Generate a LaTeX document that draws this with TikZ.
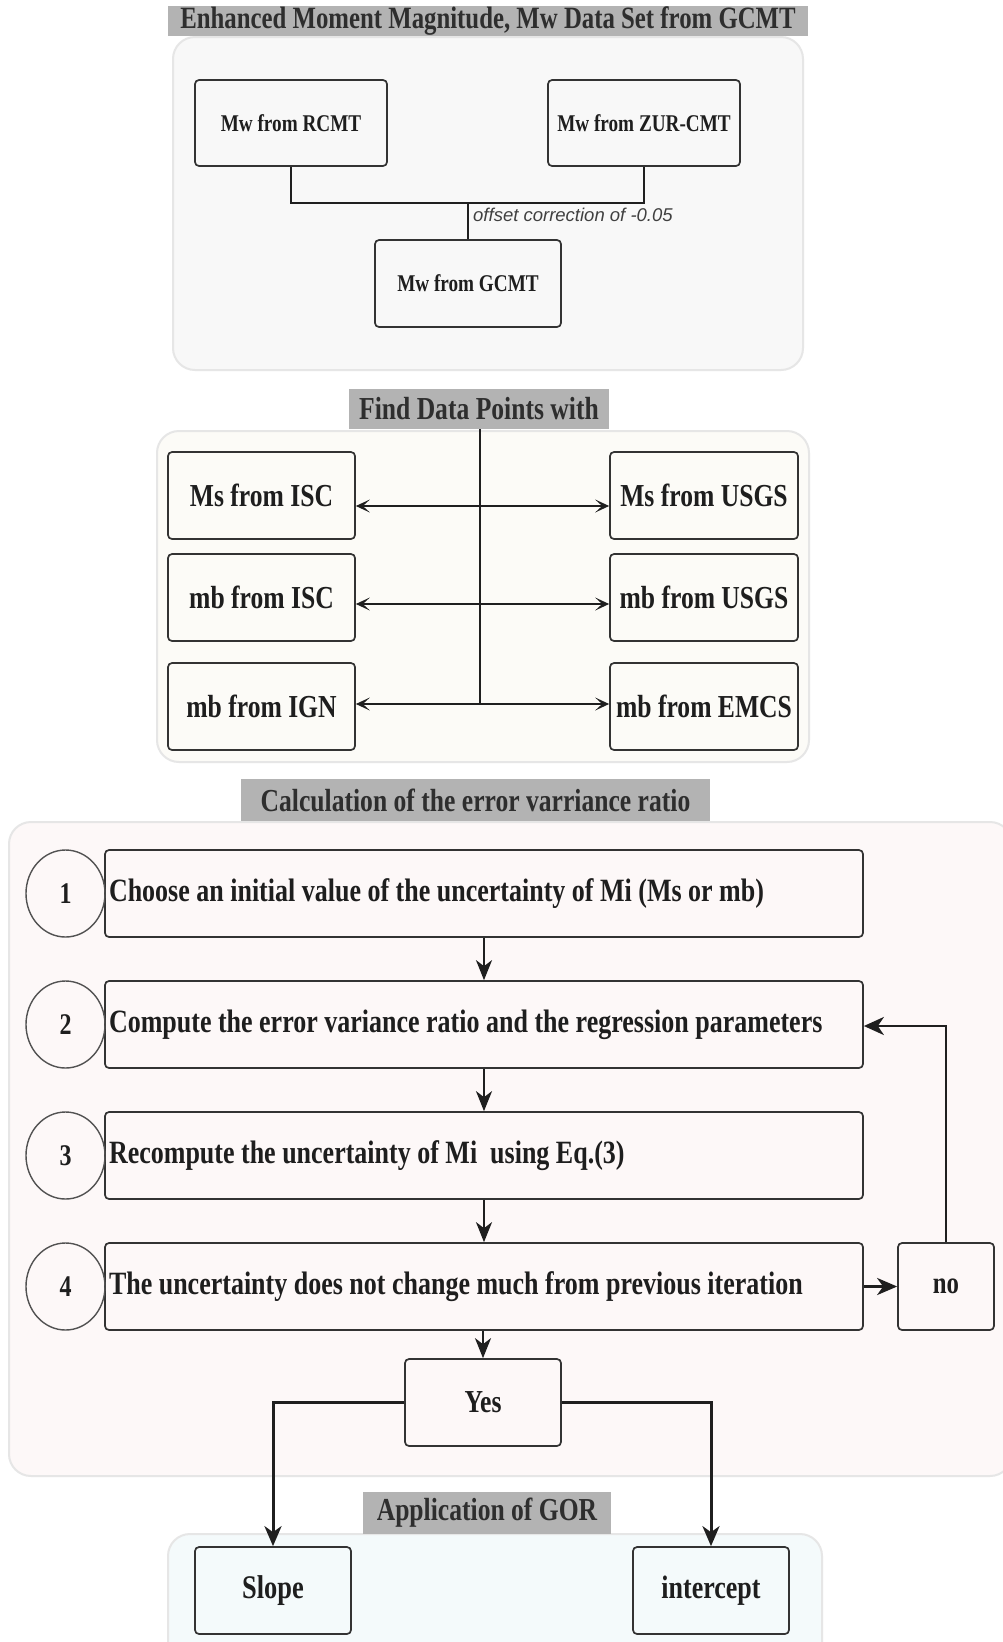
\documentclass[tikz,border=0pt]{standalone}
\usepackage{fontspec}
\usetikzlibrary{arrows.meta,shapes.geometric}
\newfontfamily\cond[FakeStretch=0.8]{Liberation Serif}
\newfontfamily\lsans{Liberation Sans}
\definecolor{bandgray}{HTML}{B3B3B3}
\definecolor{boxline}{HTML}{333333}
\definecolor{contline}{HTML}{E6E6E6}
\definecolor{cfill1}{HTML}{F8F8F8}
\definecolor{cfill2}{HTML}{FCFBF7}
\definecolor{cfill3}{HTML}{FDF8F8}
\definecolor{cfill4}{HTML}{F4FAFB}
\definecolor{txtc}{HTML}{1E1E1E}
\definecolor{ttlc}{HTML}{2E2E2E}
\newcommand{\fs}[1]{\fontsize{#1}{#1}\selectfont}
\newcommand{\steptext}[1]{\makebox[750pt][l]{#1}}
\tikzset{
  band/.style={fill=bandgray, inner sep=0pt, text=ttlc, font=\cond\bfseries\fs{32}},
  cont/.style={draw=contline, line width=2pt, rounded corners=22pt},
  box/.style={draw=boxline, line width=1.7pt, rounded corners=4pt, inner sep=0pt,
    text=txtc, font=\cond\bfseries\fs{32}, minimum height=87pt},
  stepbox/.style={draw=boxline, line width=1.7pt, rounded corners=4pt, inner ysep=0pt,
    inner xsep=4pt, text=txtc, font=\cond\bfseries\fs{32.5}, minimum height=87pt},
  num/.style={draw=boxline!85, line width=1.4pt, ellipse, inner sep=0pt,
    minimum width=79pt, minimum height=87pt, text=txtc, font=\cond\bfseries\fs{30}},
  conn/.style={line width=1.8pt, draw=black!88},
  arr/.style={conn, line width=2pt, -{Stealth[length=20pt,width=16pt,inset=6pt]}},
  sarr/.style={conn, -{Stealth[length=14pt,width=13pt,inset=7pt]}},
  thk/.style={line width=3pt, draw=black!88},
}
\begin{document}
\begin{tikzpicture}[x=1pt,y=-1pt]
\useasboundingbox (0,0) rectangle (1003,1642);
\clip (0,0) rectangle (1003,1642);
\fill[white] (0,0) rectangle (1003,1642);

% containers
\draw[cont, fill=cfill1] (173,37) rectangle (803,370);
\draw[cont, fill=cfill2] (157,431) rectangle (809,762);
\draw[cont, fill=cfill3] (9,822) rectangle (1012,1476);
\draw[cont, fill=cfill4] (168,1534) rectangle (822,1670);

% title bands
\node[band, minimum width=640pt, minimum height=30pt, font=\cond\bfseries\fs{31}] (t1) at (488,21) {Enhanced Moment Magnitude, Mw Data Set from GCMT};
\node[band, minimum width=260pt, minimum height=40pt] (t2) at (479,409) {Find Data Points with};
\node[band, minimum width=469pt, minimum height=42pt] (t3) at (475.5,800) {Calculation of the error varriance ratio};
\node[band, minimum width=248pt, minimum height=42pt] (t4) at (487,1513) {Application of GOR};

% section 1
\node[box, minimum width=192pt, minimum height=86pt, font=\cond\bfseries\fs{24}] (rcmt) at (291,123) {Mw from RCMT};
\node[box, minimum width=192pt, minimum height=86pt, font=\cond\bfseries\fs{24}] (zur) at (644,123) {Mw from ZUR-CMT};
\node[box, minimum width=186pt, font=\cond\bfseries\fs{24}] (gcmt) at (468,283.5) {Mw from GCMT};
\coordinate (j1) at (468,203);
\draw[conn, line width=1.6pt] (rcmt.south) |- (j1) -| (zur.south);
\draw[conn, line width=1.6pt] (j1) -- (gcmt.north);
\node[anchor=north west, inner sep=0pt, text=black!75, font=\lsans\itshape\fs{18.5}] (off) at (473,208) {offset correction of -0.05};

% section 2
\node[box, minimum width=187pt] (msisc) at (261.5,495.5) {Ms from ISC};
\node[box, minimum width=187pt] (mbisc) at (261.5,597.5) {mb from ISC};
\node[box, minimum width=187pt] (mbign) at (261.5,706.5) {mb from IGN};
\node[box, minimum width=188pt] (msusgs) at (704,495.5) {Ms from USGS};
\node[box, minimum width=188pt] (mbusgs) at (704,597.5) {mb from USGS};
\node[box, minimum width=188pt] (mbemcs) at (704,706.5) {mb from EMCS};
\coordinate (h1) at (480,506);
\coordinate (h2) at (480,604);
\coordinate (h3) at (480,704);
\draw[conn] (t2.south -| h1) -- (h3);
\draw[sarr] (h1) -- (h1 -| msisc.east);
\draw[sarr] (h1) -- (h1 -| msusgs.west);
\draw[sarr] (h2) -- (h2 -| mbisc.east);
\draw[sarr] (h2) -- (h2 -| mbusgs.west);
\draw[sarr] (h3) -- (h3 -| mbign.east);
\draw[sarr] (h3) -- (h3 -| mbemcs.west);

% section 3
\node[stepbox] (s1) at (484,893.5) {\steptext{Choose an initial value of the uncertainty of Mi (Ms or mb)}};
\node[stepbox] (s2) at (484,1024.5) {\steptext{Compute the error variance ratio and the regression parameters}};
\node[stepbox] (s3) at (484,1155.5) {\steptext{Recompute the uncertainty of Mi\ \ using Eq.(3)}};
\node[stepbox] (s4) at (484,1286.5) {\steptext{The uncertainty does not change much from previous iteration}};
\node[num] (n1) at (65.5,893.5) {1};
\node[num] (n2) at (65.5,1024.5) {2};
\node[num] (n3) at (65.5,1155.5) {3};
\node[num] (n4) at (65.5,1286.5) {4};
\node[box, minimum width=96pt, font=\cond\bfseries\fs{31}] (no) at (946,1286.5) {no};
\node[box, minimum width=156pt, font=\cond\bfseries\fs{32}] (yes) at (483,1402.5) {Yes};
\draw[arr] (s1) -- (s2);
\draw[arr] (s2) -- (s3);
\draw[arr] (s3) -- (s4);
\draw[arr] (s4.south -| yes.north) -- (yes.north);
\draw[thk, -{Stealth[length=20pt,width=17pt,inset=6pt]}] (s4.east) -- (no.west);
\coordinate (lp) at (946,1026);
\draw[conn, line width=2.6pt, -{Stealth[length=20pt,width=18pt,inset=6pt]}] (no.north) -- (lp) -- (lp -| s2.east);

% section 4
\node[box, minimum width=156pt, font=\cond\bfseries\fs{33}] (slope) at (273,1590.5) {Slope};
\node[box, minimum width=156pt, font=\cond\bfseries\fs{32.5}] (icpt) at (711,1590.5) {intercept};
\draw[thk, -{Stealth[length=20pt,width=17pt,inset=6pt]}] (yes.west) -| (slope.north);
\draw[thk, -{Stealth[length=20pt,width=17pt,inset=6pt]}] (yes.east) -| (icpt.north);
\end{tikzpicture}
\end{document}
